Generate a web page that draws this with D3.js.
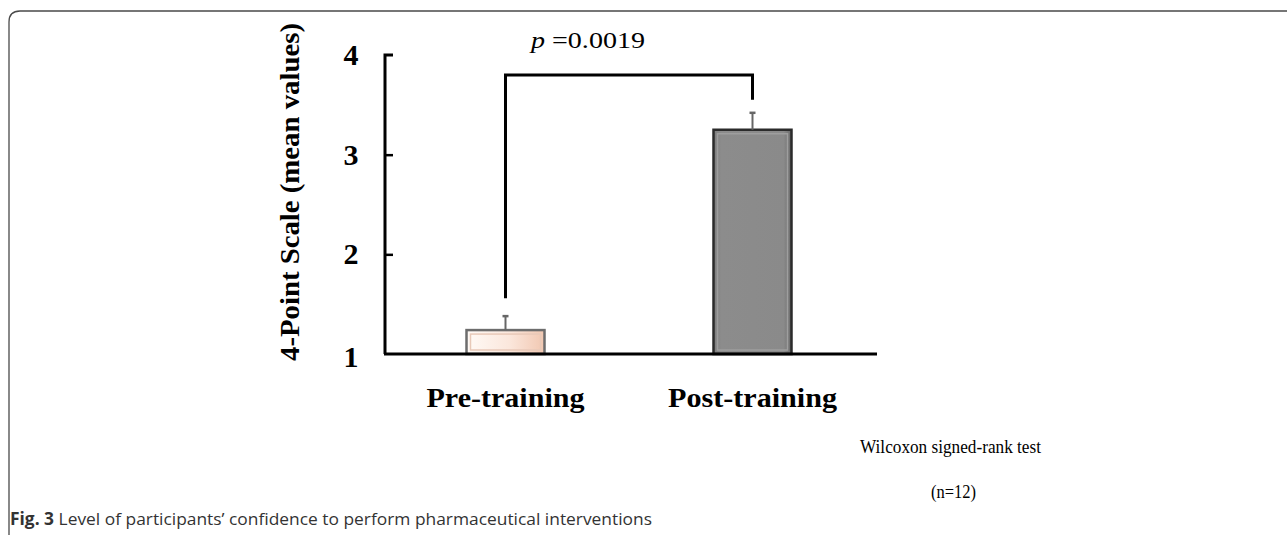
<!DOCTYPE html>
<html>
<head>
<meta charset="utf-8">
<script src="https://cdn.jsdelivr.net/npm/d3@7"></script>
<style>
  body { margin: 0; background: #fff; }
  svg { display: block; }
</style>
</head>
<body>
<div id="chart"></div>
<script>
// data
var categories = ["Pre-training", "Post-training"];
var meanValues = [1.24, 3.25];
var errValues = [0.14, 0.17];
var yTicks = [1, 2, 3, 4];
var pLabel = "0.0019";
// bracket: [left leg bottom, top, right leg bottom] in scale units
var bracketLevels = [1.56, 3.8, 3.55];

var data = categories.map(function(c, i) {
    return {cat: c, mean: meanValues[i], err: errValues[i]};
});

var W = 1287, H = 535;
var svg = d3.select("#chart").append("svg")
    .attr("width", W)
    .attr("height", H);

// gradients for the bevelled bars
var defs = svg.append("defs");
var g1 = defs.append("linearGradient").attr("id", "preFill")
    .attr("x1", 0).attr("y1", 0).attr("x2", 1).attr("y2", 0);
g1.append("stop").attr("offset", "0%").attr("stop-color", "#fffaf6");
g1.append("stop").attr("offset", "55%").attr("stop-color", "#fbe7dc");
g1.append("stop").attr("offset", "100%").attr("stop-color", "#f1c7b1");

var g2 = defs.append("linearGradient").attr("id", "postFill")
    .attr("x1", 0).attr("y1", 0).attr("x2", 1).attr("y2", 0);
g2.append("stop").attr("offset", "0%").attr("stop-color", "#7d7d7d");
g2.append("stop").attr("offset", "10%").attr("stop-color", "#8c8c8c");
g2.append("stop").attr("offset", "90%").attr("stop-color", "#8a8a8a");
g2.append("stop").attr("offset", "100%").attr("stop-color", "#6a6a6a");

// frame round the figure
svg.append("path")
    .attr("d", "M9,540 L9,22 Q9,11 20,11 L1290,11")
    .attr("fill", "none")
    .attr("stroke", "#4a4a4a")
    .attr("stroke-width", 1.3);

// scales
var x = d3.scalePoint()
    .domain(categories)
    .range([382, 876])
    .padding(0.5);

var y = d3.scaleLinear()
    .domain([1, 4])
    .range([354, 55]);

var barWidth = 78;

// Y axis (ticks point inward)
var yAxis = svg.append("g")
    .attr("transform", "translate(385,0)")
    .call(d3.axisRight(y).tickValues(yTicks).tickSize(8).tickFormat(""));
yAxis.select(".domain").attr("stroke-width", 3).attr("d", "M8," + y(4) + "H0V" + y(1));
yAxis.selectAll(".tick line").attr("stroke-width", 2.5);
yAxis.selectAll(".tick").filter(function(d) { return d === 1 || d === 4; }).select("line").remove();

serif = "'Liberation Serif', 'Times New Roman', serif";

svg.selectAll(".ylab")
    .data(yTicks)
    .enter().append("text")
    .attr("class", "ylab")
    .attr("x", 351)
    .attr("y", function(d) { return y(d) + (d === 1 ? 13 : 10); })
    .attr("text-anchor", "middle")
    .style("font-family", serif)
    .style("font-weight", "bold")
    .style("font-size", "30px")
    .text(function(d) { return d; });

// Y axis title
svg.append("text")
    .attr("transform", "translate(299,192) rotate(-90)")
    .attr("text-anchor", "middle")
    .attr("textLength", 338)
    .attr("lengthAdjust", "spacingAndGlyphs")
    .style("font-family", serif)
    .style("font-weight", "bold")
    .style("font-size", "27px")
    .text("4-Point Scale (mean values)");

// Bars
svg.selectAll(".bar")
    .data(data)
    .enter().append("rect")
    .attr("class", "bar")
    .attr("x", function(d) { return x(d.cat) - barWidth / 2; })
    .attr("y", function(d) { return y(d.mean); })
    .attr("width", barWidth)
    .attr("height", function(d) { return y(1) - y(d.mean); })
    .attr("fill", function(d, i) { return i === 0 ? "url(#preFill)" : "url(#postFill)"; })
    .attr("stroke", function(d, i) { return i === 0 ? "#6d6d6d" : "#2b2b2b"; })
    .attr("stroke-width", 2.5);

// inner bevel
svg.selectAll(".bevel")
    .data(data)
    .enter().append("rect")
    .attr("class", "bevel")
    .attr("x", function(d) { return x(d.cat) - barWidth / 2 + 4; })
    .attr("y", function(d) { return y(d.mean) + 4; })
    .attr("width", barWidth - 8)
    .attr("height", function(d) { return y(1) - y(d.mean) - 8; })
    .attr("fill", "none")
    .attr("stroke", function(d, i) { return i === 0 ? "#e8c9b8" : "#9e9e9e"; })
    .attr("stroke-width", 1.5);

// X axis
svg.append("line")
    .attr("x1", 384).attr("x2", 877)
    .attr("y1", y(1)).attr("y2", y(1))
    .attr("stroke", "#000")
    .attr("stroke-width", 3);

// Error bars
var err = svg.selectAll(".err").data(data).enter().append("g").attr("class", "err");
err.append("line")
    .attr("x1", function(d) { return x(d.cat); })
    .attr("x2", function(d) { return x(d.cat); })
    .attr("y1", function(d) { return y(d.mean); })
    .attr("y2", function(d) { return y(d.mean + d.err); })
    .attr("stroke", "#666")
    .attr("stroke-width", 2);
err.append("line")
    .attr("x1", function(d) { return x(d.cat) - 3; })
    .attr("x2", function(d) { return x(d.cat) + 3; })
    .attr("y1", function(d) { return y(d.mean + d.err); })
    .attr("y2", function(d) { return y(d.mean + d.err); })
    .attr("stroke", "#666")
    .attr("stroke-width", 2.5);

// X category labels
var xLabWidths = [158, 169];
svg.selectAll(".xlab")
    .data(categories)
    .enter().append("text")
    .attr("class", "xlab")
    .attr("x", function(d) { return x(d); })
    .attr("y", 407)
    .attr("text-anchor", "middle")
    .attr("textLength", function(d, i) { return xLabWidths[i]; })
    .attr("lengthAdjust", "spacingAndGlyphs")
    .style("font-family", serif)
    .style("font-weight", "bold")
    .style("font-size", "28px")
    .text(function(d) { return d; });

// significance bracket
var bx0 = x(categories[0]), bx1 = x(categories[1]);
svg.append("path")
    .attr("d", "M" + bx0 + "," + y(bracketLevels[0]) +
               "V" + y(bracketLevels[1]) +
               "H" + bx1 +
               "V" + y(bracketLevels[2]))
    .attr("fill", "none")
    .attr("stroke", "#000")
    .attr("stroke-width", 3);

var pText = svg.append("text")
    .attr("x", 588)
    .attr("y", 48)
    .attr("text-anchor", "middle")
    .attr("textLength", 114)
    .attr("lengthAdjust", "spacingAndGlyphs")
    .style("font-family", serif)
    .style("font-size", "23px");
pText.append("tspan").style("font-style", "italic").text("p");
pText.append("tspan").text(" =" + pLabel);

// test note
svg.append("text")
    .attr("x", 860).attr("y", 453)
    .attr("textLength", 181)
    .attr("lengthAdjust", "spacingAndGlyphs")
    .style("font-family", serif)
    .style("font-size", "19px")
    .text("Wilcoxon signed-rank test");
svg.append("text")
    .attr("x", 931).attr("y", 498)
    .attr("textLength", 45)
    .attr("lengthAdjust", "spacingAndGlyphs")
    .style("font-family", serif)
    .style("font-size", "19px")
    .text("(n=12)");

// caption
var cap = svg.append("text")
    .attr("x", 10).attr("y", 525)
    .attr("textLength", 642)
    .attr("lengthAdjust", "spacingAndGlyphs")
    .style("font-family", "'Open Sans', 'Noto Sans', sans-serif")
    .style("font-size", "17px")
    .attr("fill", "#333");
cap.append("tspan").style("font-weight", "bold").text("Fig. 3");
cap.append("tspan").text(" Level of participants\u2019 confidence to perform pharmaceutical interventions");
</script>
</body>
</html>
